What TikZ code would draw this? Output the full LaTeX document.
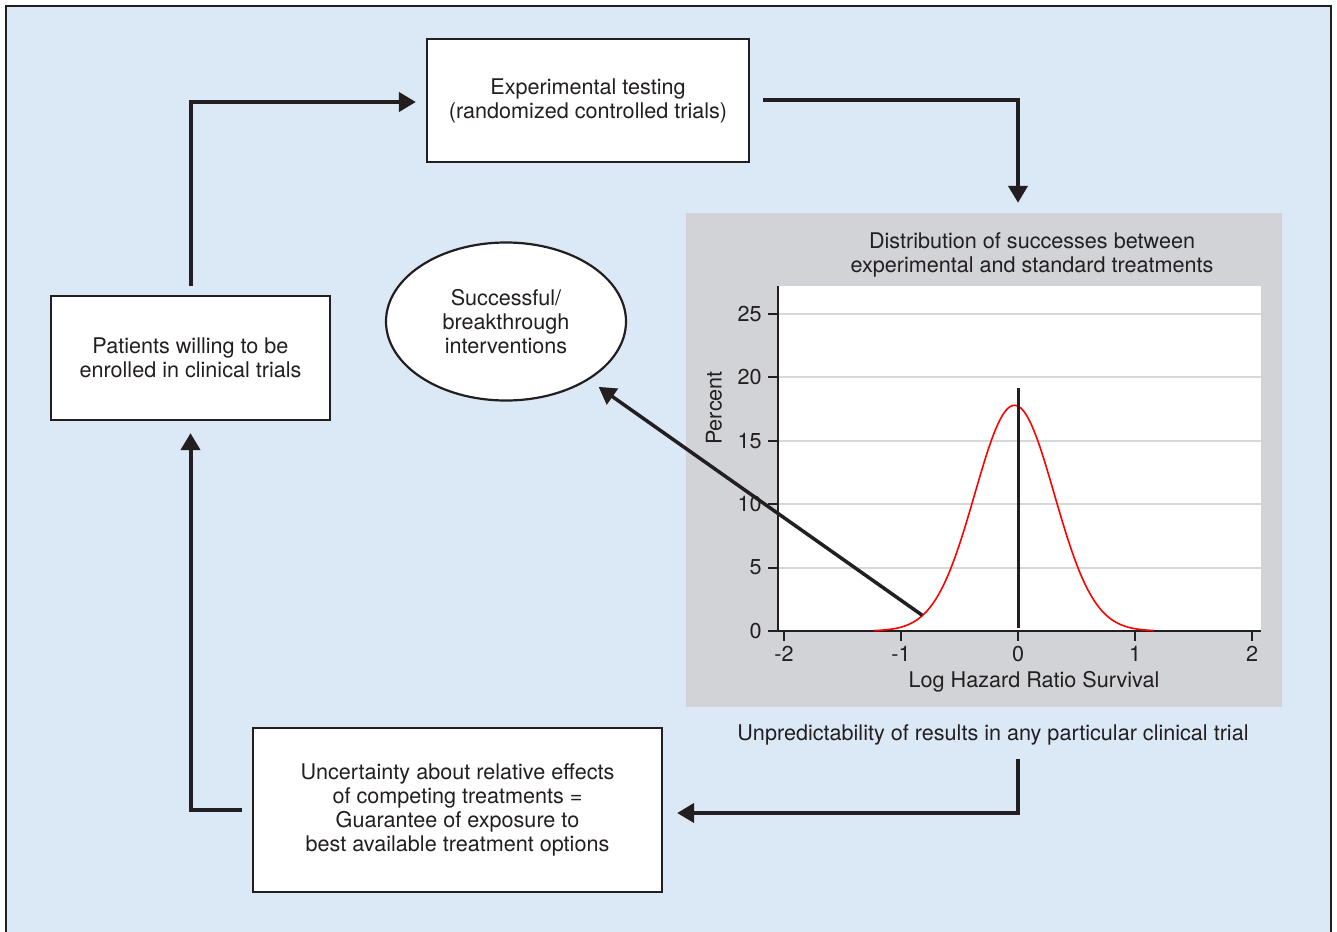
\documentclass[tikz,border=0pt]{standalone}
\usepackage{fontspec}
\setmainfont{TeX Gyre Heros}
\usetikzlibrary{arrows.meta,shapes.geometric,calc}
\definecolor{bgblue}{RGB}{219,232,245}
\definecolor{panelgray}{RGB}{209,211,214}
\definecolor{gridgray}{RGB}{216,216,218}
\definecolor{ink}{RGB}{35,31,32}
\begin{document}
\begin{tikzpicture}[x=1pt,y=-1pt,
  every node/.style={font=\fontsize{21.6}{24}\selectfont, text=ink},
  box/.style={draw=ink, fill=white, line width=2.2pt, align=center, inner sep=0pt},
  arr/.style={draw=ink, line width=4pt, -{Triangle[length=17pt,width=19pt]}},
  grid/.style={gridgray, line width=2pt},
  axis/.style={ink, line width=2pt}]
\useasboundingbox (0,0) rectangle (1337,931);
% background frame
\draw[fill=bgblue, draw=ink, line width=2.5pt] (6,6) rectangle (1331,945);
% boxes
\node[box, minimum width=322pt, minimum height=123pt] (exp) at (588,100.5)
  {Experimental testing\\(randomized controlled trials)};
\node[box, minimum width=279pt, minimum height=124pt] (pat) at (190.5,358)
  {Patients willing to be\\enrolled in clinical trials};
\node[box, minimum width=409pt, minimum height=164pt] (unc) at (457.5,810)
  {Uncertainty about relative effects\\of competing treatments =\\Guarantee of exposure to\\best available treatment options};
\node[box, ellipse, minimum width=240pt, minimum height=158pt] (ell) at (506,321.5)
  {Successful/\\breakthrough\\interventions};
% grey panel
\node[fill=panelgray, minimum width=596pt, minimum height=494pt, inner sep=0pt] (panel) at (984,460) {};
\node[align=center] (title) at (1032,255) {Distribution of successes between\\experimental and standard treatments};
\node[align=center] (unpred) at (993,735) {Unpredictability of results in any particular clinical trial};
% plot
\fill[white] (778,286) rectangle (1261,631);
\coordinate (zero) at (1018,631);
\begin{scope}[shift={(1018,631)}, x=117pt, y=12.68pt]
  \foreach \v in {5,10,15,20,25} {
    \draw[grid] (-2.05,\v) -- (2.077,\v);
    \draw[axis] (-2.05,\v) -- ++(-10pt,0);
    \node[anchor=east] at ($(-2.05,\v)+(-13pt,0)$) {\v};
  }
  \draw[axis] (-2.05,0) -- ++(-10pt,0);
  \node[anchor=east] at ($(-2.05,0)+(-13pt,0)$) {0};
  \draw[axis] (-2.05,0) -- (-2.05,27.2);
  \draw[axis] (-2.05,0) -- (2.077,0);
  \foreach \t/\l in {-2/-2,-1/-1,0/0,1/1,2/2} {
    \draw[axis] (\t,0) -- ++(0,-10pt);
    \node[anchor=north] at ($(\t,0)+(0,-12pt)$) {\l};
  }
  \draw[red, line width=1.6pt] plot[domain=-1.23:1.16, samples=120, smooth]
    (\x, {17.8*exp(-((\x+0.03)^2)/(2*0.34^2))});
  \draw[ink, line width=3pt] (0,0.2) -- (0,19.2);
  \coordinate (cpt) at (-0.82,1.25);
\end{scope}
\node[rotate=90] (pct) at (714,408) {Percent};
\node (xlab) at (1034,682) {Log Hazard Ratio Survival};
% connectors
\draw[arr] ([yshift=9pt]pat.north) |- ([xshift=-10pt,yshift=-1.5pt]exp.west);
\draw[arr] ([xshift=13pt]exp.east) -| ([yshift=10pt]panel.north -| zero);
\draw[arr] ([yshift=-10pt]unpred.south -| zero) |- ([xshift=14pt,yshift=-3pt]unc.east);
\draw[arr] ([xshift=-10pt]unc.west) -| ([yshift=-12pt]pat.south);
\draw[arr, line width=3.5pt, shorten >=12pt] (cpt) -- (ell);
\end{tikzpicture}
\end{document}
